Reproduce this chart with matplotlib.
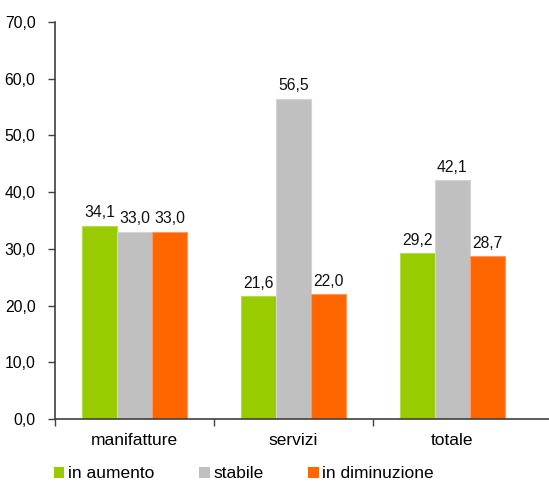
import numpy as np
import matplotlib.pyplot as plt
from matplotlib.patches import Patch

plt.rcParams['font.family'] = ['Liberation Sans', 'DejaVu Sans']

# Dati
categorie = ["manifatture", "servizi", "totale"]
serie = ["in aumento", "stabile", "in diminuzione"]
in_aumento = [34.1, 21.6, 29.2]
stabile = [33.0, 56.5, 42.1]
in_diminuzione = [33.0, 22.0, 28.7]

valori = [in_aumento, stabile, in_diminuzione]
colori = ["#99CC00", "#C0C0C0", "#FF6600"]
bordi = ["#B5DA4A", "#D4D4D4", "#FF9A5C"]

fig = plt.figure(figsize=(5.49, 4.82), dpi=100)
ax = fig.add_axes([0.1002, 0.1307, 0.8998, 0.8237])

x = np.arange(len(categorie))
w = 0.22
for i, (vals, c, b) in enumerate(zip(valori, colori, bordi)):
    pos = x + (i - 1) * w
    ax.bar(pos, vals, width=w, color=c, edgecolor=b, linewidth=0.8, zorder=2)
    for xp, v in zip(pos, vals):
        ax.annotate(f"{v:.1f}".replace(".", ","), (xp, v), xytext=(0, 4),
                    textcoords="offset points", ha="center", va="bottom",
                    fontsize=11.3, color="#111111")

ax.set_ylim(0, 70)
ax.set_xlim(-0.5, 2.61)
ax.set_yticks(np.arange(0, 71, 10))
ax.set_yticklabels([f"{t:.1f}".replace(".", ",") for t in np.arange(0, 71, 10)])

ax.set_xticks(x)
ax.set_xticklabels(categorie, fontsize=12.5)
ax.set_xticks([-0.5, 0.5, 1.5], minor=True)
ax.tick_params(axis="x", which="major", length=0, pad=10)
ax.tick_params(axis="x", which="minor", length=5, width=1, color="#404040", direction="out")
ax.tick_params(axis="y", length=5, width=1, color="#404040", pad=9, labelsize=11.3)

for s in ["top", "right"]:
    ax.spines[s].set_visible(False)
for s in ["left", "bottom"]:
    ax.spines[s].set_color("#404040")
    ax.spines[s].set_linewidth(1.2)

handles = [Patch(facecolor=c, edgecolor="none") for c in colori]
fig.legend(handles, serie, loc="center left", bbox_to_anchor=(0.098, 0.017),
           ncol=3, frameon=False, fontsize=12.5, handlelength=0.6, handleheight=0.6,
           handletextpad=0.2, columnspacing=2.6, borderpad=0, borderaxespad=0)

fig.savefig("out.png", dpi=100)
